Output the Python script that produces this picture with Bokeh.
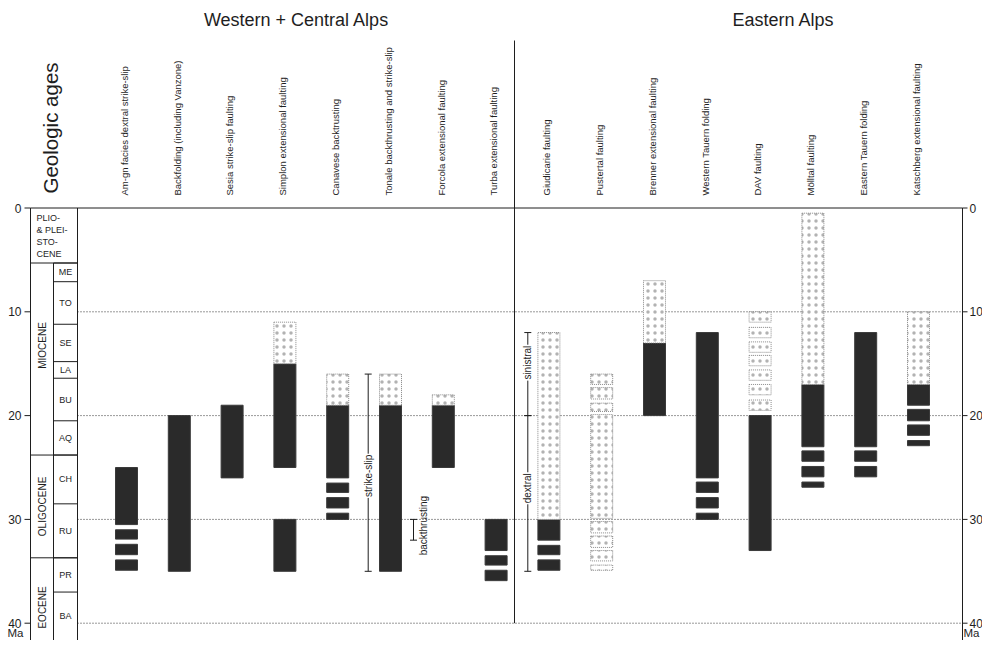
import math
from bokeh.plotting import figure
from bokeh.models import ColumnDataSource, Range1d
from bokeh.core.properties import value
from bokeh.embed import file_html
from bokeh.resources import INLINE

# ------------------------------------------------------------------ data
regions = ["Western + Central Alps", "Eastern Alps"]

columns = [
    "Am-gn facies dextral strike-slip",
    "Backfolding (including Vanzone)",
    "Sesia strike-slip faulting",
    "Simplon extensional faulting",
    "Canavese backtrusting",
    "Tonale backthrusting and strike-slip",
    "Forcola extensional faulting",
    "Turba extensional faulting",
    "Giudicarie faulting",
    "Pustertal faulting",
    "Brenner extensional faulting",
    "Western Tauern folding",
    "DAV faulting",
    "Mölltal faulting",
    "Eastern Tauern folding",
    "Katschberg extensional faulting",
]

# black bars: column index, young end, old end (Ma)
solid_col = [0, 0, 0, 0, 1, 2, 3, 3, 4, 4, 4, 4, 5, 6, 7, 7, 7, 8, 8, 8, 10,
             11, 11, 11, 11, 12, 13, 13, 13, 13, 14, 14, 14, 15, 15, 15, 15]
solid_from = [25.0, 31.0, 32.4, 33.9, 20.0, 19.0, 15.0, 30.0, 19.0, 26.5, 27.9, 29.4,
              19.0, 19.0, 30.0, 33.5, 34.9, 30.0, 32.5, 33.9, 13.0, 12.0, 26.4, 27.9,
              29.4, 20.0, 17.0, 23.4, 24.9, 26.4, 12.0, 23.4, 24.9, 17.0, 19.4, 20.9, 22.4]
solid_to = [30.5, 31.9, 33.4, 34.9, 35.0, 26.0, 25.0, 35.0, 26.0, 27.4, 28.9, 30.0,
            35.0, 25.0, 33.0, 34.4, 35.9, 32.0, 33.4, 34.9, 20.0, 26.0, 27.4, 28.9,
            30.0, 33.0, 23.0, 24.4, 25.9, 26.9, 23.0, 24.4, 25.9, 19.0, 20.5, 21.9, 22.9]

# dotted bars: column index, young end, old end (Ma)
dotted_col = [3, 4, 5, 6, 8, 9, 9, 9, 9, 9, 9, 9, 9, 10, 12, 12, 12, 12, 12, 12, 12, 13, 15]
dotted_from = [11.0, 16.0, 16.0, 18.0, 12.0, 16.0, 17.3, 18.8, 19.9, 30.2, 31.6, 33.0,
               34.4, 7.0, 10.0, 11.5, 12.9, 14.2, 15.6, 17.0, 18.5, 0.5, 10.0]
dotted_to = [15.0, 19.0, 19.0, 19.0, 30.0, 17.0, 18.4, 19.6, 29.9, 31.3, 32.7, 34.0,
             34.9, 13.0, 11.0, 12.5, 13.9, 15.2, 16.6, 18.0, 19.5, 17.0, 17.0]

# sense-of-movement brackets
sense_labels = ["strike-slip", "backthrusting", "sinistral", "dextral"]
sense_from = [16.0, 30.0, 12.0, 20.0]
sense_to = [35.0, 32.0, 20.0, 35.0]

# time scale
epochs = ["PLIO-\n& PLEI-\nSTO-\nCENE", "MIOCENE", "OLIGOCENE", "EOCENE"]
epoch_top = [0.0, 5.3, 23.8, 33.7]
stages = ["ME", "TO", "SE", "LA", "BU", "AQ", "CH", "RU", "PR", "BA"]
stage_top = [5.3, 7.1, 11.2, 14.8, 16.4, 20.5, 23.8, 28.5, 33.7, 37.0]
age_ticks = [0, 10, 20, 30, 40]

# ------------------------------------------------------------------ layout helpers
X0, DX = 126.0, 52.8      # px of first column, px per column
Y0, DY = 207.5, 10.38     # px of 0 Ma, px per Ma
W, H = 982, 640


def xd(px):
    return (px - X0) / DX


def yd(py):
    return (py - Y0) / DY


FONT = value("Liberation Sans")
INK = "#1e1e1e"
HALF = 11.0 / DX

p = figure(width=W, height=H,
           x_range=Range1d(xd(0), xd(W)), y_range=Range1d(yd(H), yd(0)),
           x_axis_location=None, y_axis_location=None,
           toolbar_location=None, output_backend="svg", min_border=0,
           outline_line_color=None)
p.grid.grid_line_color = None
p.background_fill_color = "white"

y_bottom = yd(H)
L_AX, MID_COL, GEO_R, R_AX, DIV = xd(30), xd(53), xd(77), xd(962), xd(514)

# dotted grid lines
grid = age_ticks[1:]
p.segment(x0=[GEO_R] * len(grid), x1=[R_AX] * len(grid), y0=grid, y1=grid,
          line_color="#333333", line_width=1, line_dash="1 2")

# bars
solid = ColumnDataSource(dict(
    left=[c - HALF for c in solid_col], right=[c + HALF for c in solid_col],
    top=solid_from, bottom=solid_to))
p.quad(left="left", right="right", top="top", bottom="bottom", source=solid,
       fill_color="#2a2a2a", line_color="#3a3a3a", line_width=1)

dotted = ColumnDataSource(dict(
    left=[c - HALF for c in dotted_col], right=[c + HALF for c in dotted_col],
    top=dotted_from, bottom=dotted_to))
p.quad(left="left", right="right", top="top", bottom="bottom", source=dotted,
       fill_color="white", hatch_pattern="dot", hatch_color="#555555",
       hatch_alpha=0.45, hatch_scale=7, hatch_weight=1,
       line_color="#8a8a8a", line_width=1, line_dash="1 1")

# frame lines
p.segment(x0=[L_AX, L_AX, GEO_R, R_AX, MID_COL, DIV],
          x1=[R_AX, L_AX, GEO_R, R_AX, MID_COL, DIV],
          y0=[0, 0, 0, 0, epoch_top[1], yd(40)],
          y1=[0, y_bottom, y_bottom, y_bottom, y_bottom, 40],
          line_color=INK, line_width=1)

# epoch / stage boundaries
p.segment(x0=[L_AX] * 3, x1=[GEO_R] * 3, y0=epoch_top[1:], y1=epoch_top[1:],
          line_color=INK, line_width=1)
p.segment(x0=[MID_COL] * len(stage_top), x1=[GEO_R] * len(stage_top),
          y0=stage_top, y1=stage_top, line_color=INK, line_width=1)

# epoch labels
epoch_base = epoch_top[1:] + [y_bottom]
p.text(x=[xd(36)], y=[(epoch_top[0] + epoch_base[0]) / 2], text=[epochs[0]],
       text_font=FONT, text_font_size="9px", text_color=INK,
       text_align="left", text_baseline="middle", text_line_height=1.2)
epoch_mid_shift = [0, -1.3, 0, 0.8]
p.text(x=[xd(41.5)] * 3,
       y=[(t + b) / 2 + s for t, b, s in zip(epoch_top[1:], epoch_base[1:], epoch_mid_shift[1:])],
       text=epochs[1:], angle=math.pi / 2, text_font=FONT, text_font_size="10px",
       text_color=INK, text_align="center", text_baseline="middle")

stage_base = stage_top[1:] + [y_bottom]
p.text(x=[xd(65)] * len(stages),
       y=[(t + b) / 2 for t, b in zip(stage_top, stage_base)],
       text=stages, text_font=FONT, text_font_size="9px", text_color=INK,
       text_align="center", text_baseline="middle")

# axis ticks and labels
p.segment(x0=[xd(24)] * 5, x1=[L_AX] * 5, y0=age_ticks, y1=age_ticks, line_color=INK)
p.segment(x0=[R_AX] * 5, x1=[xd(967)] * 5, y0=age_ticks, y1=age_ticks, line_color=INK)
p.text(x=[xd(21)] * 5, y=age_ticks, text=[str(t) for t in age_ticks],
       text_font=FONT, text_font_size="12px", text_color=INK,
       text_align="right", text_baseline="middle")
p.text(x=[xd(969)] * 5, y=age_ticks, text=[str(t) for t in age_ticks],
       text_font=FONT, text_font_size="12px", text_color=INK,
       text_align="left", text_baseline="middle")
p.text(x=[xd(15), xd(971)], y=[y_bottom - 0.15] * 2, text=["Ma", "Ma"],
       text_font=FONT, text_font_size="11.5px", text_color=INK,
       text_align="center", text_baseline="bottom")

# headers
p.text(x=[xd(296), xd(783)], y=[yd(19)] * 2, text=regions,
       text_font=FONT, text_font_size="18px", text_color=INK,
       text_align="center", text_baseline="middle")
p.text(x=[xd(50)], y=[yd(193)], text=["Geologic ages"], angle=math.pi / 2,
       text_font=FONT, text_font_size="20.5px", text_color=INK,
       text_align="left", text_baseline="middle")

# column labels
p.text(x=[i - 0.04 for i in range(len(columns))], y=[yd(195)] * len(columns),
       text=columns, angle=math.pi / 2, text_font=FONT, text_font_size="9.5px",
       text_color=INK, text_align="left", text_baseline="middle")

# sense-of-movement brackets
sense_x = [xd(367.7), xd(413), xd(527.3), xd(527.3)]
cap = 3.5 / DX
p.segment(x0=sense_x, x1=sense_x, y0=sense_from, y1=sense_to, line_color=INK, line_width=1)
p.segment(x0=[x - cap for x in sense_x] * 2, x1=[x + cap for x in sense_x] * 2,
          y0=sense_from + sense_to, y1=sense_from + sense_to, line_color=INK, line_width=1)
sense_lx = [sense_x[0], xd(423), sense_x[2], sense_x[3]]
sense_ly = [25.8, 30.6, 14.9, 27.0]
on_line = [True, False, True, True]
for lab, lx, ly, ol in zip(sense_labels, sense_lx, sense_ly, on_line):
    kw = dict(background_fill_color="white", padding=1) if ol else {}
    p.text(x=[lx], y=[ly], text=[lab], angle=math.pi / 2, text_font=FONT,
           text_font_size="10px", text_color=INK, text_align="center",
           text_baseline="middle", **kw)

open("out.html", "w").write(file_html(p, INLINE))
